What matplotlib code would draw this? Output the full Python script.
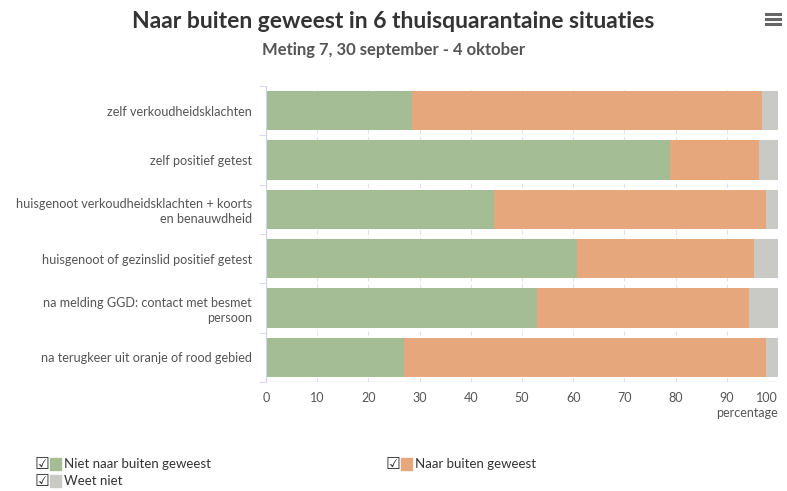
import matplotlib.pyplot as plt
import matplotlib.patches as mpatches
from matplotlib.lines import Line2D

plt.rcParams['font.family'] = ['Lato', 'DejaVu Sans']

situaties = [
    "zelf verkoudheidsklachten",
    "zelf positief getest",
    "huisgenoot verkoudheidsklachten + koorts\nen benauwdheid",
    "huisgenoot of gezinslid positief getest",
    "na melding GGD: contact met besmet\npersoon",
    "na terugkeer uit oranje of rood gebied",
]
niet_buiten = [28.6, 79.0, 44.5, 60.7, 52.9, 26.9]
wel_buiten = [68.3, 17.2, 53.2, 34.7, 41.4, 70.7]
weet_niet = [3.1, 3.8, 2.3, 4.6, 5.7, 2.4]
x_ticks = [0, 10, 20, 30, 40, 50, 60, 70, 80, 90, 100]

series = ["Niet naar buiten geweest", "Naar buiten geweest", "Weet niet"]
kleuren = ["#a4bd95", "#e6a77d", "#c9c9c6"]

fig = plt.figure(figsize=(7.87, 4.91), dpi=100)
ax = fig.add_axes([266 / 787, 1 - 382 / 491, 512 / 787, 296 / 491])

pos = list(range(len(situaties)))
links = [0] * len(situaties)
for naam, waarden, kleur in zip(series, [niet_buiten, wel_buiten, weet_niet], kleuren):
    ax.barh(pos, waarden, left=links, height=0.8, color=kleur, label=naam, zorder=2)
    links = [a + b for a, b in zip(links, waarden)]

ax.set_xlim(0, 100)
ax.set_ylim(len(situaties) - 0.5, -0.5)
ax.set_xticks(x_ticks, labels=[str(t) for t in x_ticks])
ax.get_xticklabels()[-1].set_horizontalalignment("right")
ax.set_yticks(pos)
ax.set_yticklabels(situaties, fontsize=9.1, color="#555555", linespacing=1.3)
ax.tick_params(axis="x", length=0, labelsize=9, labelcolor="#555555", pad=7)
ax.tick_params(axis="y", length=0, pad=10)
ax.set_yticks([p - 0.5 for p in pos] + [len(situaties) - 0.5], minor=True)
ax.tick_params(axis="y", which="minor", length=5, color="#ccd6eb", direction="out")
ax.grid(axis="x", color="#dde3ee", linestyle=(0, (4, 3)), linewidth=0.8, zorder=0)
for s in ["top", "right", "bottom"]:
    ax.spines[s].set_visible(False)
ax.spines["left"].set_color("#ccd6eb")
ax.axhline(len(situaties) - 0.5, color="#ccd6eb", linewidth=1, zorder=3)
ax.text(1.0, -0.083, "percentage", transform=ax.transAxes, ha="right", va="top",
        fontsize=9, color="#555555")

fig.text(0.5, 1 - 21 / 491, "Naar buiten geweest in 6 thuisquarantaine situaties",
         ha="center", va="center", fontsize=16.5, fontweight="bold", color="#333333")
fig.text(0.5, 1 - 50 / 491, "Meting 7, 30 september - 4 oktober",
         ha="center", va="center", fontsize=12, fontweight="bold", color="#555555")

# menu icoon
for yy in [14, 19, 24]:
    fig.add_artist(Line2D([766 / 787, 780 / 787], [1 - yy / 491] * 2,
                          color="#666666", linewidth=2.2))

# legenda met vinkjes
legenda = [(35, 464, 0), (386, 464, 1), (35, 481, 2)]
for x, y, i in legenda:
    fig.text(x / 787, 1 - y / 491, "\u2611", family="DejaVu Sans", fontsize=12,
             ha="left", va="center", color="#333333")
    fig.add_artist(mpatches.Rectangle(((x + 15) / 787, 1 - (y + 6) / 491), 11 / 787, 12 / 491,
                                      color=kleuren[i], transform=fig.transFigure))
    fig.text((x + 29) / 787, 1 - y / 491, series[i], fontsize=9.5,
             ha="left", va="center", color="#333333")

fig.savefig("out.png", dpi=100)
